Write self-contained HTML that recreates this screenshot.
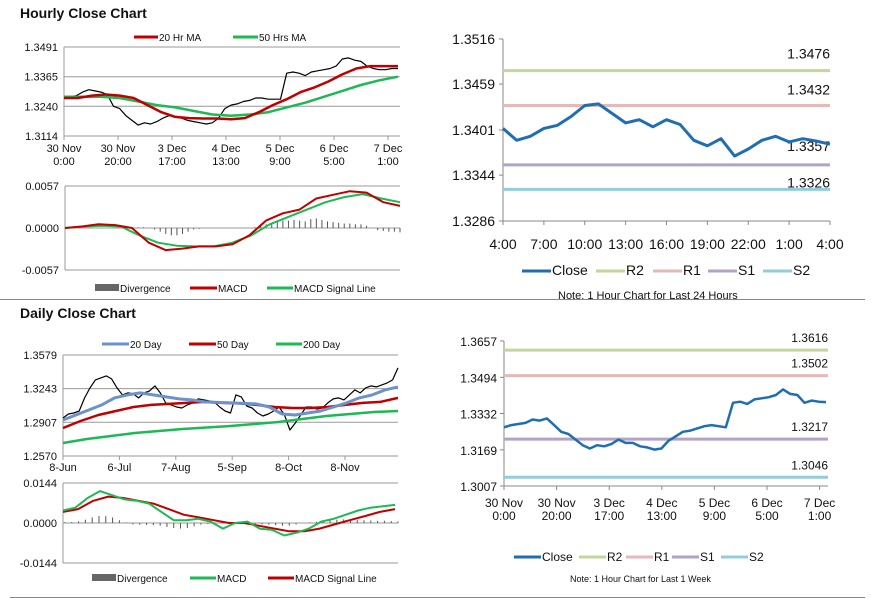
<!DOCTYPE html>
<html><head><meta charset="utf-8">
<style>
html,body{margin:0;padding:0;background:#fff;}
body{width:873px;height:601px;overflow:hidden;font-family:"Liberation Sans",Arial,sans-serif;}
svg text{font-family:"Liberation Sans",Arial,sans-serif;fill:#111;}
</style></head>
<body>
<svg id="c" width="873" height="601" viewBox="0 0 873 601" xmlns="http://www.w3.org/2000/svg">
<text x="20" y="18" font-size="14" font-weight="bold">Hourly Close Chart</text>
<text x="20" y="318" font-size="14" font-weight="bold">Daily Close Chart</text>
<line x1="0" y1="299.5" x2="865" y2="299.5" stroke="#888" stroke-width="1"/>
<line x1="10" y1="597.5" x2="865" y2="597.5" stroke="#888" stroke-width="1"/>
</svg>
<script>
// ---------- data ----------
const hourlyClose=[1.3280,1.3280,1.3285,1.3300,1.3310,1.3305,1.3300,1.3290,1.3240,1.3230,1.3200,1.3180,1.3160,1.3170,1.3165,1.3175,1.3190,1.3200,1.3195,1.3190,1.3180,1.3175,1.3170,1.3165,1.3170,1.3190,1.3230,1.3245,1.3250,1.3260,1.3265,1.3275,1.3275,1.3270,1.3270,1.3270,1.3380,1.3385,1.3380,1.3370,1.3385,1.3390,1.3395,1.3400,1.3410,1.3440,1.3445,1.3435,1.3430,1.3410,1.3400,1.3395,1.3395,1.3400,1.3400];
const hourlyMA20=[1.3275,1.3275,1.3285,1.3290,1.3285,1.3275,1.3245,1.3215,1.3195,1.3190,1.3188,1.3188,1.3185,1.3190,1.3215,1.3245,1.3270,1.3300,1.3320,1.3345,1.3375,1.3400,1.3410,1.3410,1.3410];
const hourlyMA50=[1.3280,1.3280,1.3280,1.3275,1.3260,1.3245,1.3235,1.3220,1.3205,1.3200,1.3205,1.3215,1.3235,1.3255,1.3280,1.3305,1.3330,1.3350,1.3365];
const hourlyTicks=["30 Nov|0:00","30 Nov|20:00","3 Dec|17:00","4 Dec|13:00","5 Dec|9:00","6 Dec|5:00","7 Dec|1:00"];
const hourlyYTicks=[1.3491,1.3365,1.3240,1.3114];
const hMacd=[0,0.0002,0.0005,0.0004,0.0000,-0.0020,-0.0030,-0.0028,-0.0025,-0.0025,-0.0022,-0.0010,0.0010,0.0020,0.0025,0.0040,0.0045,0.0050,0.0048,0.0035,0.0030];
const hSignal=[0,0.0002,0.0003,0.0002,-0.0010,-0.0020,-0.0024,-0.0025,-0.0025,-0.0020,-0.0010,0.0005,0.0015,0.0025,0.0035,0.0042,0.0046,0.0040,0.0035];
const hDiv=[0,0,0,1,1,1,1,0,-2,-5,-8,-10,-10,-8,-5,-2,-1,0,0,0,0,0,0,0,0,0,1,3,5,7,9,10,10,11,10,9,12,13,11,9,8,7,6,6,5,5,3,0,-3,-4,-5,-5,-6];
const hMacdTicks=[0.0057,0.0000,-0.0057];

const dayClose=[1.3403,1.3388,1.3393,1.3403,1.3407,1.3418,1.3432,1.3434,1.3422,1.3410,1.3414,1.3405,1.3414,1.3408,1.3388,1.3381,1.3390,1.3368,1.3377,1.3388,1.3393,1.3386,1.3390,1.3387,1.3383];
const dayTicks=["4:00","7:00","10:00","13:00","16:00","19:00","22:00","1:00","4:00"];
const dayYTicks=[1.3516,1.3459,1.3401,1.3344,1.3286];
const dayLevels=[1.3476,1.3432,1.3357,1.3326];

const dailyClose=[1.2950,1.2990,1.3000,1.3020,1.3150,1.3250,1.3330,1.3350,1.3370,1.3340,1.3250,1.3180,1.3200,1.3190,1.3150,1.3200,1.3220,1.3270,1.3200,1.3100,1.3080,1.3060,1.3050,1.3080,1.3100,1.3140,1.3130,1.3120,1.3110,1.3060,1.3020,1.3000,1.3180,1.3160,1.3070,1.3050,1.3000,1.2970,1.2990,1.3020,1.3060,1.2980,1.2830,1.2900,1.2980,1.3060,1.3060,1.3040,1.3050,1.3100,1.3140,1.3150,1.3130,1.3180,1.3230,1.3200,1.3250,1.3270,1.3260,1.3280,1.3300,1.3330,1.3450];
const daily20=[1.2930,1.2980,1.3030,1.3080,1.3150,1.3180,1.3200,1.3180,1.3160,1.3140,1.3130,1.3110,1.3105,1.3100,1.3095,1.3090,1.3060,1.2990,1.2980,1.3000,1.3020,1.3060,1.3100,1.3150,1.3180,1.3230,1.3260];
const daily50=[1.2850,1.2920,1.2980,1.3020,1.3060,1.3080,1.3090,1.3100,1.3110,1.3100,1.3095,1.3080,1.3060,1.3050,1.3050,1.3060,1.3080,1.3100,1.3110,1.3150];
const daily200=[1.2700,1.2740,1.2770,1.2800,1.2820,1.2840,1.2855,1.2870,1.2890,1.2910,1.2940,1.2970,1.2990,1.3010,1.3020];
const dailyTicks=["8-Jun","6-Jul","7-Aug","5-Sep","8-Oct","8-Nov"];
const dailyYTicks=[1.3579,1.3243,1.2907,1.2570];
const dMacd=[0.0045,0.0055,0.0090,0.0115,0.0100,0.0085,0.0080,0.0070,0.0040,0.0010,0.0010,0.0015,0.0005,-0.0020,0.0000,0.0005,-0.0020,-0.0025,-0.0045,-0.0035,-0.0020,0.0005,0.0015,0.0030,0.0045,0.0055,0.0060,0.0065];
const dSignal=[0.0040,0.0050,0.0080,0.0095,0.0090,0.0080,0.0070,0.0050,0.0030,0.0020,0.0010,0.0000,0.0000,-0.0010,-0.0020,-0.0030,-0.0030,-0.0020,-0.0005,0.0010,0.0025,0.0040,0.0050];
const dDiv=[3,4,6,12,20,25,25,20,10,2,-5,-6,-7,-8,-10,-14,-18,-20,-18,-12,-6,-3,-2,0,2,3,2,0,-3,-5,-6,-8,-10,-10,-5,0,2,4,8,10,12,13,12,11,10,9,8,8,7,6];
const dMacdTicks=[0.0144,0.0000,-0.0144];

const weekClose=[1.3270,1.3280,1.3285,1.3290,1.3305,1.3300,1.3310,1.3280,1.3250,1.3240,1.3215,1.3190,1.3175,1.3190,1.3185,1.3195,1.3215,1.3200,1.3200,1.3185,1.3180,1.3170,1.3175,1.3210,1.3230,1.3250,1.3255,1.3265,1.3275,1.3280,1.3275,1.3270,1.3380,1.3385,1.3375,1.3395,1.3400,1.3405,1.3415,1.3440,1.3420,1.3415,1.3380,1.3390,1.3385,1.3383];
const weekYTicks=[1.3657,1.3494,1.3332,1.3169,1.3007];
const weekLevels=[1.3616,1.3502,1.3217,1.3046];

// ---------- helpers ----------
const svg=document.getElementById('c');
const NS='http://www.w3.org/2000/svg';
function mk(tag,attrs,parent){const e=document.createElementNS(NS,tag);for(const k in attrs)e.setAttribute(k,attrs[k]);(parent||svg).appendChild(e);return e;}
function scale(d0,d1,r0,r1){return v=>r0+(v-d0)/(d1-d0)*(r1-r0);}
function series(arr,x0,x1,ys,color,w,name){
  const pts=arr.map((v,i)=>(x0+i*(x1-x0)/(arr.length-1)).toFixed(1)+','+ys(v).toFixed(1)).join(' ');
  const p=mk('polyline',{points:pts,fill:'none',stroke:color,'stroke-width':w,'stroke-linejoin':'round'});
  
  
  return p;
}
function txt(x,y,s,size,anchor,name){
  const t=mk('text',{x:x,y:y,'font-size':size,'text-anchor':anchor||'start'});t.textContent=s;
  
  
  return t;
}
function hline(x0,x1,y,color,w,name){
  const l=mk('line',{x1:x0,x2:x1,y1:y,y2:y,stroke:color,'stroke-width':w});
  
  
  return l;
}
function vline(x,y0,y1,color,w,name){
  const l=mk('line',{x1:x,x2:x,y1:y0,y2:y1,stroke:color,'stroke-width':w});
  
  
  return l;
}
function legend(items,y,size){
  items.forEach(it=>{
    const r=mk('rect',{x:it.x,y:y-(it.bar?4:1.5),width:it.w,height:it.bar?7:3,fill:it.c});
    
    
    txt(it.x+it.w+1,y+4,it.t,size,'start','legend-label-'+it.n);
  });
}
function grid(x0,x1,ticks,ys,prefix,fix){
  ticks.forEach(v=>{
    hline(x0,x1,ys(v),'#999',1,prefix+'-gridline');
    txt(x0-6,ys(v)+4,v.toFixed(fix),11,'end',prefix+'-y-tick');
  });
  vline(x0,ys(ticks[0]),ys(ticks[ticks.length-1]),'#999',1,prefix+'-y-axis');
}
function bars(arr,x0,x1,ys,unit,name){
  arr.forEach((v,i)=>{
    const x=x0+i*(x1-x0)/(arr.length-1);
    const b=vline(x,ys(0),ys(v*unit),'#555',1,name);
  });
}
function xlabels(ticks,x0,x1,y,size,prefix){
  ticks.forEach((t,i)=>{
    const x=x0+i*(x1-x0)/(ticks.length-1);
    vline(x,y-16,y-12,'#999',1,prefix+'-x-tick');
    const parts=t.split('|');
    parts.forEach((p,j)=>txt(x,y+j*13,p,11,'middle',prefix+'-x-label'));
  });
}

// ---------- hourly (top-left) ----------
let ys=scale(1.3114,1.3491,136,47);
grid(64,400,hourlyYTicks,ys,'hourly',4);
xlabels(hourlyTicks,64,388,152,11,'hourly');
series(hourlyClose,64,398,ys,'#000',1.2,'hourly-close-line');
series(hourlyMA50,64,398,ys,'#1db954',2.5,'hourly-ma50-line');
series(hourlyMA20,64,398,ys,'#c00000',2.5,'hourly-ma20-line');
legend([{x:134,w:24,c:'#c00000',t:'20 Hr MA',n:'ma20'},{x:233,w:25,c:'#1db954',t:'50 Hrs MA',n:'ma50'}],37,10);

ys=scale(-0.0057,0.0057,270,186);
grid(65,400,hMacdTicks,ys,'hourly-macd',4);
bars(hDiv,110,400,ys,0.0001,'hourly-divergence-bar');
series(hSignal,65,400,ys,'#1db954',2,'hourly-macd-signal-line');
series(hMacd,65,400,ys,'#c00000',2,'hourly-macd-line');
legend([{x:95,w:24,c:'#666',t:'Divergence',n:'divergence',bar:1},{x:190,w:27,c:'#c00000',t:'MACD',n:'macd'},{x:267,w:26,c:'#1db954',t:'MACD Signal Line',n:'signal'}],288,10);

// ---------- 24h (top-right) ----------
ys=scale(1.3286,1.3516,221,39);
dayYTicks.forEach(v=>{txt(495,ys(v)+5,v.toFixed(4),14,'end','day-y-tick');hline(499,503,ys(v),'#888',1,'day-y-tickmark');});
vline(503,39,221,'#888',1,'day-y-axis');
hline(503,830,221,'#888',1,'day-x-axis');
const lvlC=['#c3d69b','#e6b9b8','#b3a2c7','#93cddd'],lvlN=['r2','r1','s1','s2'];
const dayLblDy=[-12,-11,-14,-2];
dayLevels.forEach((v,i)=>{hline(503,830,ys(v),lvlC[i],3,'day-level-'+lvlN[i]);txt(830,ys(v)+dayLblDy[i],v.toFixed(4),14,'end','day-level-label-'+lvlN[i]);});
series(dayClose,503,830,ys,'#1f6eb4',3,'day-close-line');
dayTicks.forEach((t,i)=>{const x=503+i*(327/8);vline(x,221,225,'#888',1,'day-x-tick');txt(x,249,t,14,'middle','day-x-label');});
legend([{x:522,w:29,c:'#1f6eb4',t:'Close',n:'close'},{x:596,w:29,c:'#c3d69b',t:'R2',n:'r2'},{x:653,w:29,c:'#e6b9b8',t:'R1',n:'r1'},{x:708,w:29,c:'#b3a2c7',t:'S1',n:'s1'},{x:763,w:29,c:'#93cddd',t:'S2',n:'s2'}],271,14);
txt(558,299,'Note: 1 Hour Chart for Last 24 Hours',11,'start','day-note');

// ---------- daily (bottom-left) ----------
ys=scale(1.2570,1.3579,456,355);
grid(63,398,dailyYTicks,ys,'daily',4);
dailyTicks.forEach((t,i)=>{const x=63+i*56.4;vline(x,456,460,'#999',1,'daily-x-tick');txt(x,471,t,11,'middle','daily-x-label');});
series(dailyClose,63,398,ys,'#000',1.2,'daily-close-line');
series(daily200,63,398,ys,'#1db954',2.5,'daily-200-line');
series(daily50,63,398,ys,'#c00000',2.5,'daily-50-line');
series(daily20,63,398,ys,'#6b93c9',3,'daily-20-line');
legend([{x:102,w:27,c:'#6b93c9',t:'20 Day',n:'d20'},{x:189,w:27,c:'#c00000',t:'50 Day',n:'d50'},{x:276,w:26,c:'#1db954',t:'200 Day',n:'d200'}],344,10);

ys=scale(-0.0144,0.0144,563,483);
grid(63,398,dMacdTicks,ys,'daily-macd',4);
bars(dDiv,65,398,ys,0.0001,'daily-divergence-bar');
series(dSignal,63,395,ys,'#c00000',2,'daily-macd-signal-line');
series(dMacd,63,395,ys,'#1db954',2,'daily-macd-line');
legend([{x:92,w:24,c:'#666',t:'Divergence',n:'d-divergence',bar:1},{x:190,w:26,c:'#1db954',t:'MACD',n:'d-macd'},{x:268,w:26,c:'#c00000',t:'MACD Signal Line',n:'d-signal'}],578,10);

// ---------- week (bottom-right) ----------
ys=scale(1.3007,1.3657,486,341);
weekYTicks.forEach(v=>{txt(497,ys(v)+5,v.toFixed(4),12,'end','week-y-tick');hline(500,504,ys(v),'#888',1,'week-y-tickmark');});
vline(504,341,486,'#888',1,'week-y-axis');
hline(504,828,486,'#888',1,'week-x-axis');
const wkDy=[-11,-11,-11,-11];
weekLevels.forEach((v,i)=>{hline(504,828,ys(v),lvlC[i],3,'week-level-'+lvlN[i]);txt(828,ys(v)+wkDy[i]+3,v.toFixed(4),12,'end','week-level-label-'+lvlN[i]);});
series(weekClose,504,826,ys,'#1f6eb4',2.5,'week-close-line');
hourlyTicks.forEach((t,i)=>{const x=504+i*52.6;vline(x,486,490,'#888',1,'week-x-tick');t.split('|').forEach((p,j)=>txt(x,507+j*13,p,12,'middle','week-x-label'));});
legend([{x:514,w:27,c:'#1f6eb4',t:'Close',n:'w-close'},{x:579,w:27,c:'#c3d69b',t:'R2',n:'w-r2'},{x:626,w:27,c:'#e6b9b8',t:'R1',n:'w-r1'},{x:672,w:27,c:'#b3a2c7',t:'S1',n:'w-s1'},{x:721,w:27,c:'#93cddd',t:'S2',n:'w-s2'}],557,12);
txt(570,582,'Note: 1 Hour Chart for  Last 1 Week',9,'start','week-note');
</script>
</body></html>
